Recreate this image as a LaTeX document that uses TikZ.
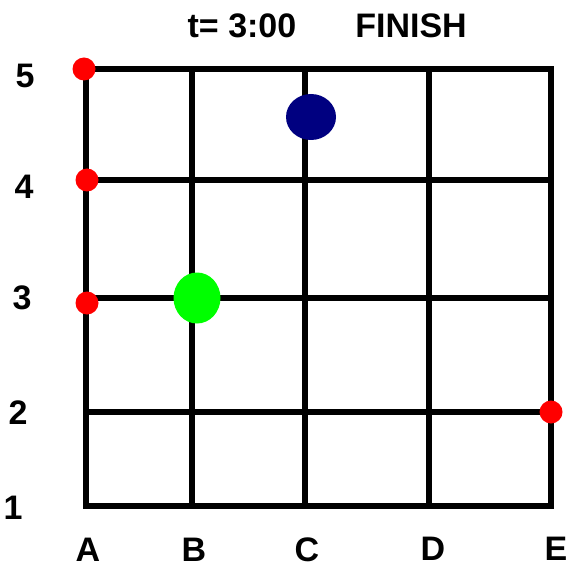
\documentclass[tikz,border=0pt]{standalone}
\usepackage{fontspec}
\setmainfont{Liberation Sans}
\usepackage{xcolor}
\usetikzlibrary{positioning,shapes.geometric}
\definecolor{navyblue}{RGB}{0,0,128}
\definecolor{brightgreen}{RGB}{0,255,0}

\begin{document}
\begin{tikzpicture}[
  x=1pt, y=-1pt,
  font=\fontsize{34}{40}\selectfont\bfseries,
  gridline/.style={line width=6pt},
  reddot/.style={circle, fill=red, inner sep=0pt, minimum size=23pt},
  piece/.style={ellipse, inner sep=0pt},
  lbl/.style={inner sep=0pt},
]
  \useasboundingbox (0,0) rectangle (568,569);

  \draw[gridline] (86,69) rectangle (551,506);
  \foreach \x in {192,305,429}
    \draw[gridline] (\x,69) -- (\x,506);
  \foreach \y in {180,298,412}
    \draw[gridline] (86,\y) -- (551,\y);

  \node[lbl] (time)   at (242,26) {t= 3:00};
  \node[lbl] (finish) at (411,26) {FINISH};

  \node[lbl] (r5) at (25,76)  {5};
  \node[lbl] (r4) at (24,187) {4};
  \node[lbl] (r3) at (22,298) {3};
  \node[lbl] (r2) at (18,413) {2};
  \node[lbl] (r1) at (13,508) {1};

  \node[lbl] (cA) at (88,550)  {A};
  \node[lbl] (cB) at (194,550) {B};
  \node[lbl] (cC) at (307,550) {C};
  \node[lbl] (cD) at (433,549) {D};
  \node[lbl] (cE) at (556,549) {E};

  \node[reddot] (a5) at (84,69)   {};
  \node[reddot] (a4) at (87,180)  {};
  \node[reddot] (a3) at (87,303)  {};
  \node[reddot] (e2) at (551,412) {};

  \node[piece, fill=navyblue, minimum width=50pt, minimum height=46pt]
    (blue) at (311,117) {};
  \node[piece, fill=brightgreen, minimum width=47pt, minimum height=51pt]
    (green) at (197,298) {};
\end{tikzpicture}
\end{document}
